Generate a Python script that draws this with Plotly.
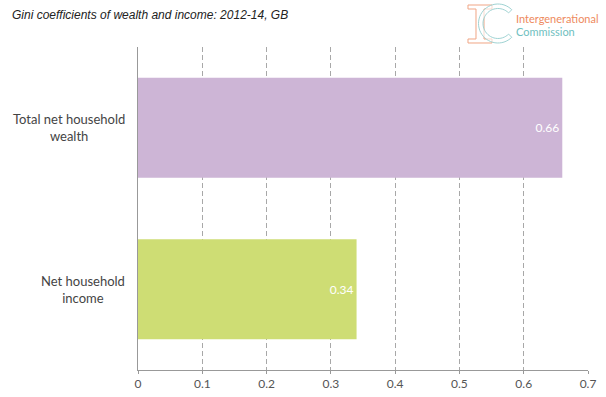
import math
import plotly.graph_objects as go

categories = ["Net household income", "Total net household wealth"]
category_labels = ["Net household<br>income", "Total net household<br>wealth"]
values = [0.34, 0.66]
bar_colors = ["#CEDD74", "#CDB5D6"]
value_labels = ["0.34", "0.66"]
tick_vals = [0, 0.1, 0.2, 0.3, 0.4, 0.5, 0.6, 0.7]
tick_text = ["0", "0.1", "0.2", "0.3", "0.4", "0.5", "0.6", "0.7"]
title_text = "Gini coefficients of wealth and income: 2012-14, GB"

W, H = 606, 397
ML, MR, MT, MB = 138, 18, 47, 27
PW, PH = W - ML - MR, H - MT - MB

def px(x):
    return (x - ML) / PW

def py(y):
    return (H - MB - y) / PH

fig = go.Figure()
fig.add_trace(go.Bar(
    x=values, y=categories, orientation="h",
    marker=dict(color=bar_colors, line=dict(width=0)),
    text=value_labels, textposition="inside", insidetextanchor="end",
    textfont=dict(color="white", size=12, family="Lato"),
    hoverinfo="skip",
))

shapes = []
orange = "#F0A585"
teal = "#9FD3D3"
ipts = [(468, 5), (492, 5), (492, 9), (484, 9), (484, 39), (492, 39), (492, 43),
        (468, 43), (468, 39), (476, 39), (476, 9), (468, 9)]
path = "M " + " L ".join(f"{px(x):.4f},{py(y):.4f}" for x, y in ipts) + " Z"
shapes.append(dict(type="path", xref="paper", yref="paper", path=path,
                   line=dict(color=orange, width=1)))
cx, cy = 498, 23.5
def arc(r, a0, a1, n=40):
    pts = []
    for i in range(n + 1):
        a = math.radians(a0 + (a1 - a0) * i / n)
        pts.append((cx + r * math.cos(a), cy - r * math.sin(a)))
    return pts
cpts = arc(19.5, 45, 315) + arc(15, 315, 45)
path = "M " + " L ".join(f"{px(x):.4f},{py(y):.4f}" for x, y in cpts) + " Z"
shapes.append(dict(type="path", xref="paper", yref="paper", path=path,
                   line=dict(color=teal, width=1), fillcolor="rgba(255,255,255,0.6)"))

annotations = [
    dict(text=title_text, x=px(10), y=py(15), xref="paper", yref="paper",
         xanchor="left", yanchor="middle", showarrow=False,
         font=dict(family="Liberation Sans", size=12, color="#222", style="italic")),
    dict(text="Intergenerational", x=px(514), y=py(18), xref="paper", yref="paper",
         xanchor="left", yanchor="middle", showarrow=False,
         font=dict(family="Lato", size=11, color="#EE8A5E")),
    dict(text="Commission", x=px(514), y=py(31), xref="paper", yref="paper",
         xanchor="left", yanchor="middle", showarrow=False,
         font=dict(family="Lato", size=11, color="#6FC0C0")),
]
for cat, lab in zip(categories, category_labels):
    annotations.append(dict(text=lab, x=px(127), y=cat, xref="paper", yref="y",
                            xanchor="right", yanchor="middle", align="center",
                            showarrow=False,
                            font=dict(family="Lato", size=13, color="#444")))

fig.update_layout(
    width=W, height=H,
    margin=dict(l=ML, r=MR, t=MT, b=MB, pad=0),
    paper_bgcolor="white", plot_bgcolor="white",
    showlegend=False, bargap=0.38,
    font=dict(family="Lato", size=12, color="#555"),
    shapes=shapes, annotations=annotations,
    xaxis=dict(range=[0, 0.7], tickvals=tick_vals, ticktext=tick_text,
               showgrid=True, gridcolor="#A8A8A8", griddash="5px,3px", gridwidth=1,
               showline=True, linecolor="#999", linewidth=1,
               ticks="outside", ticklen=3, tickcolor="#999",
               zeroline=False, automargin=False,
               tickfont=dict(size=12, color="#555")),
    yaxis=dict(showline=True, linecolor="#999", linewidth=1, showgrid=False,
               showticklabels=False, ticks="", zeroline=False, automargin=False),
)

fig.write_html("out.html", config={"displayModeBar": False},
               post_script="document.body.style.margin='0';document.body.style.overflow='hidden';")
